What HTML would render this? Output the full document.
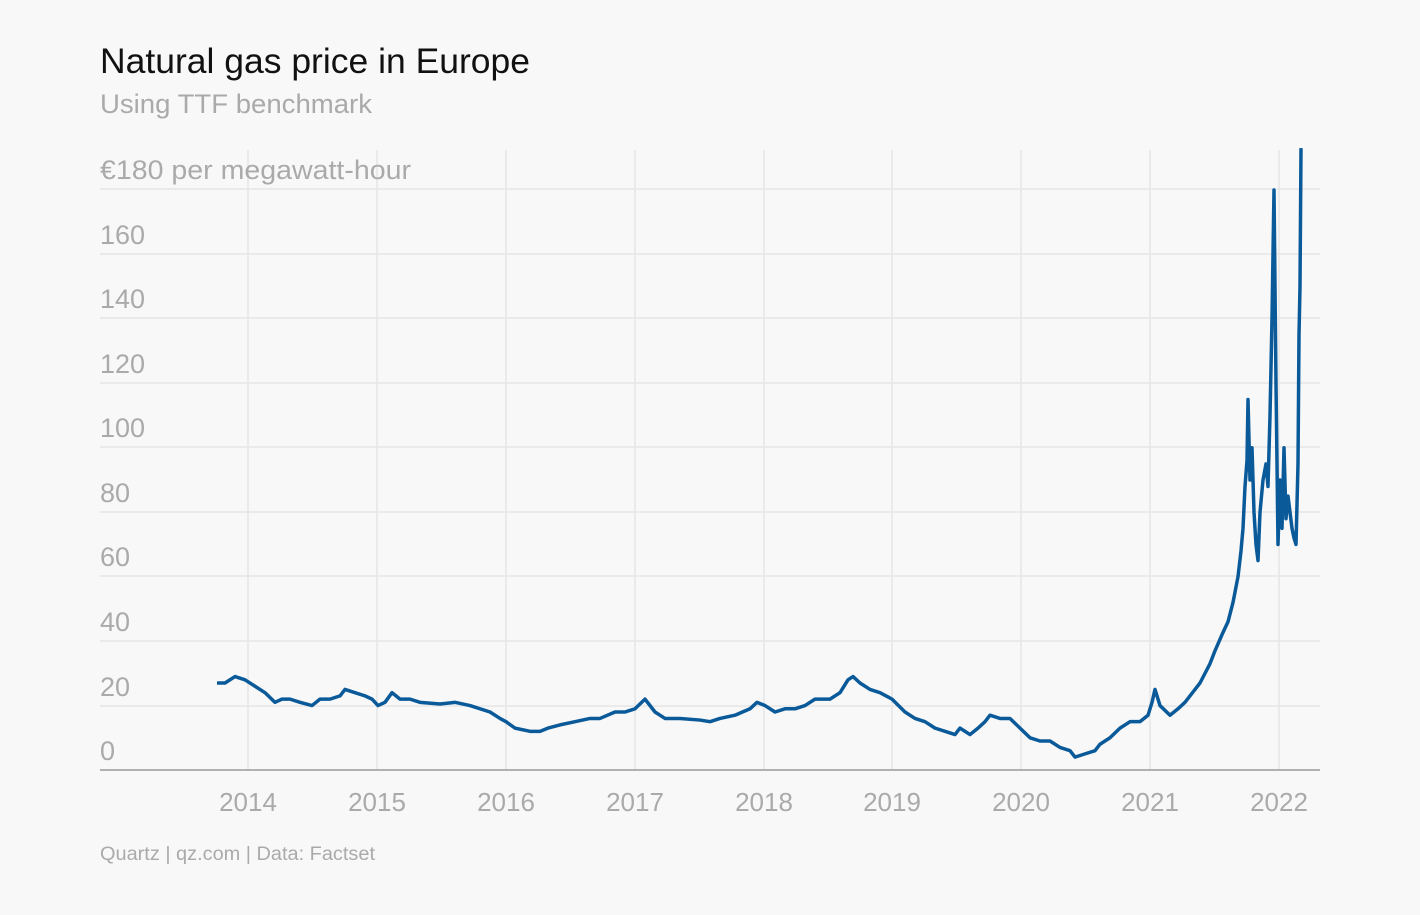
<!DOCTYPE html>
<html><head><meta charset="utf-8"><style>
body{margin:0;background:#f8f8f8;width:1420px;height:910px;overflow:hidden;font-family:"Liberation Sans",sans-serif}
</style></head><body>
<svg width="1420" height="910" xmlns="http://www.w3.org/2000/svg" font-family="Liberation Sans, sans-serif">
<rect width="1420" height="910" fill="#f8f8f8"/>
<text x="100" y="73" font-size="35" fill="#111" textLength="430" lengthAdjust="spacingAndGlyphs">Natural gas price in Europe</text>
<text x="100" y="113" font-size="27" fill="#aaa" textLength="272" lengthAdjust="spacingAndGlyphs">Using TTF benchmark</text>
<g stroke="#e6e6e6" stroke-width="1.5">
<line x1="248" y1="150" x2="248" y2="770"/><line x1="377" y1="150" x2="377" y2="770"/><line x1="506" y1="150" x2="506" y2="770"/><line x1="635" y1="150" x2="635" y2="770"/><line x1="764" y1="150" x2="764" y2="770"/><line x1="892" y1="150" x2="892" y2="770"/><line x1="1021" y1="150" x2="1021" y2="770"/><line x1="1150" y1="150" x2="1150" y2="770"/><line x1="1279" y1="150" x2="1279" y2="770"/>
<line x1="100" y1="189" x2="1320" y2="189"/><line x1="100" y1="254" x2="1320" y2="254"/><line x1="100" y1="318" x2="1320" y2="318"/><line x1="100" y1="383" x2="1320" y2="383"/><line x1="100" y1="447" x2="1320" y2="447"/><line x1="100" y1="512" x2="1320" y2="512"/><line x1="100" y1="576" x2="1320" y2="576"/><line x1="100" y1="641" x2="1320" y2="641"/><line x1="100" y1="706" x2="1320" y2="706"/>
</g>
<line x1="100" y1="770" x2="1320" y2="770" stroke="#999" stroke-width="1.5"/>
<g font-size="27" fill="#aaa">
<text x="100" y="179" textLength="311" lengthAdjust="spacingAndGlyphs">€180 per megawatt-hour</text>
<text x="100" y="244">160</text><text x="100" y="308">140</text><text x="100" y="373">120</text><text x="100" y="437">100</text><text x="100" y="502">80</text><text x="100" y="566">60</text><text x="100" y="631">40</text><text x="100" y="696">20</text><text x="100" y="760">0</text>
</g>
<g font-size="26" fill="#aaa" text-anchor="middle">
<text x="248" y="811">2014</text><text x="377" y="811">2015</text><text x="506" y="811">2016</text><text x="635" y="811">2017</text><text x="764" y="811">2018</text><text x="892" y="811">2019</text><text x="1021" y="811">2020</text><text x="1150" y="811">2021</text><text x="1279" y="811">2022</text>
</g>
<text x="100" y="860" font-size="19" fill="#aaa" textLength="275" lengthAdjust="spacingAndGlyphs">Quartz | qz.com | Data: Factset</text>
<g transform="translate(0,770) scale(1,-3.222)">
<polyline fill="none" stroke="#0a5a9a" stroke-width="3.5" vector-effect="non-scaling-stroke" stroke-linejoin="round" points="217,27 225,27 235,29 245,28 255,26 265,24 275,21 282,22 290,22 300,21 312,20 320,22 330,22 340,23 345,25 355,24 365,23 372,22 378,20 385,21 392,24 400,22 410,22 420,21 440,20.5 455,21 470,20 490,18 500,16 506,15 515,13 530,12 540,12 548,13 560,14 575,15 590,16 600,16 615,18 625,18 635,19 645,22 655,18 665,16 680,16 700,15.5 710,15 720,16 735,17 750,19 757,21 765,20 775,18 785,19 795,19 805,20 815,22 830,22 840,24 848,28 853,29 860,27 870,25 880,24 892,22 905,18 915,16 925,15 935,13 945,12 955,11 960,13 970,11 978,13 985,15 990,17 1000,16 1010,16 1020,13 1030,10 1040,9 1050,9 1060,7 1070,6 1075,4 1085,5 1095,6 1100,8 1110,10 1120,13 1130,15 1140,15 1148,17 1152,21 1155,25 1160,20 1170,17 1178,19 1185,21 1195,25 1200,27 1210,33 1215,37 1222,42 1228,46 1233,52 1238,60 1241,68 1243,75 1245,88 1247,96 1248,115 1250,90 1252,100 1254,80 1256,70 1258,65 1260,80 1263,90 1266,95 1268,88 1270,110 1272,140 1274,180 1276,120 1278,70 1280,90 1282,75 1284,100 1286,78 1288,85 1290,80 1292,75 1294,72 1296,70 1298,95 1299,135 1300,150 1301,193"/>
</g>
</svg>
</body></html>
